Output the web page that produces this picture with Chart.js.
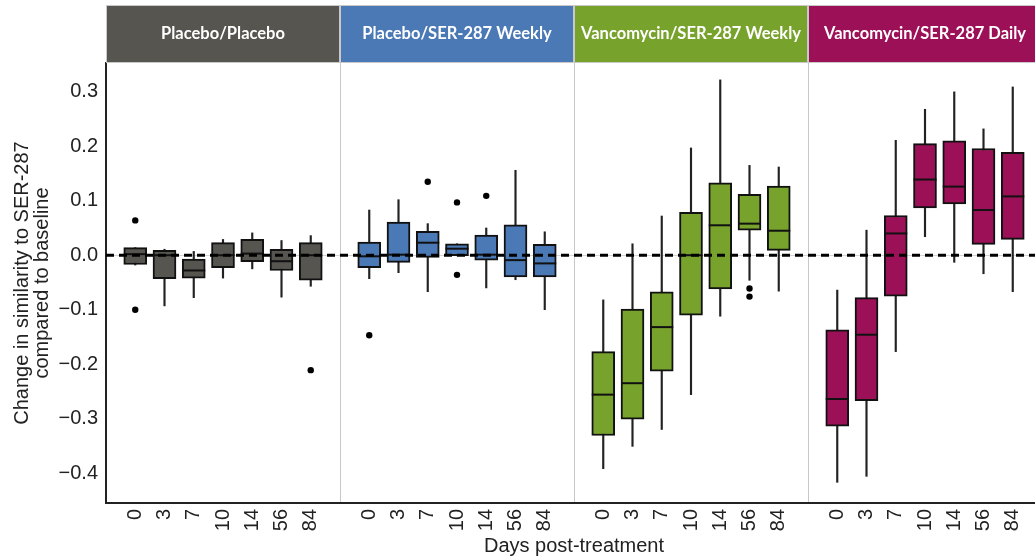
<!DOCTYPE html>
<html>
<head>
<meta charset="utf-8">
<script src="https://cdn.jsdelivr.net/npm/chart.js@4/dist/chart.umd.min.js"></script>
<style>
  html, body { margin: 0; padding: 0; background: #fff; overflow: hidden; }
  #wrap { position: relative; width: 1035px; height: 560px; overflow: hidden; }
  #chart { display: block; position: absolute; left: 0; top: 0; }
</style>
</head>
<body>
<div id="wrap"><canvas id="chart" width="1044" height="560"></canvas></div>
<script>
/*******************************************************************************
 * DATA
 */

const days = ['0', '3', '7', '10', '14', '56', '84'];
const groups = ['Placebo/Placebo', 'Placebo/SER-287 Weekly', 'Vancomycin/SER-287 Weekly', 'Vancomycin/SER-287 Daily'];

// one row per group, one value per day
const whiskerLow = [
  [-0.018, -0.093, -0.078, -0.042, -0.025, -0.077, -0.057],
  [-0.043, -0.032, -0.067, -0.001, -0.060, -0.045, -0.100],
  [-0.392, -0.351, -0.320, -0.256, -0.112, -0.046, -0.066],
  [-0.417, -0.406, -0.177, 0.034, -0.013, -0.034, -0.067]
];
const quartile1 = [
  [-0.017, -0.043, -0.042, -0.023, -0.012, -0.028, -0.046],
  [-0.023, -0.013, -0.004, -0.001, -0.009, -0.040, -0.040],
  [-0.331, -0.301, -0.213, -0.110, -0.062, 0.046, 0.009],
  [-0.314, -0.267, -0.075, 0.087, 0.094, 0.020, 0.029]
];
const medians = [
  [0.002, 0.000, -0.028, 0.000, 0.003, -0.011, 0.000],
  [-0.002, 0.001, 0.023, 0.012, 0.001, -0.009, -0.015],
  [-0.256, -0.235, -0.132, 0.000, 0.055, 0.058, 0.045],
  [-0.264, -0.146, 0.040, 0.139, 0.126, 0.083, 0.108]
];
const quartile3 = [
  [0.014, 0.009, -0.007, 0.023, 0.029, 0.011, 0.023],
  [0.024, 0.061, 0.044, 0.021, 0.037, 0.056, 0.020],
  [-0.177, -0.099, -0.067, 0.079, 0.133, 0.112, 0.127],
  [-0.137, -0.078, 0.073, 0.205, 0.210, 0.196, 0.189]
];
const whiskerHigh = [
  [0.014, 0.011, 0.007, 0.029, 0.041, 0.027, 0.036],
  [0.083, 0.102, 0.058, 0.021, 0.050, 0.156, 0.043],
  [-0.082, 0.021, 0.072, 0.197, 0.322, 0.165, 0.162],
  [-0.064, 0.046, 0.211, 0.268, 0.300, 0.232, 0.309]
];
// outliers per group, per day
const outliers = [
  [[0.064, -0.100], [], [], [], [], [], [-0.211]],
  [[-0.147], [], [0.135], [0.097, -0.036], [0.109], [], []],
  [[], [], [], [], [], [-0.061, -0.076], []],
  [[], [], [], [], [], [], []]
];

const yTickValues = [0.3, 0.2, 0.1, 0.0, -0.1, -0.2, -0.3, -0.4];
const baseline = 0;

/*******************************************************************************
 * STYLE
 */

const groupColors = ['#565550', '#4a79b6', '#77a22c', '#9c1057'];
const fontFamily = '"Liberation Sans", Arial, sans-serif';
const slots = days.length + 1;           // each panel spans 8 slots, days sit on 1..7
const xMax = slots * groups.length;

const xPos = (g, d) => g * slots + d + 1;

/*******************************************************************************
 * DATASETS
 */

const whiskerData = [];
const medianData = [];
const outlierData = [];
const boxSets = [];

groups.forEach((name, g) => {
  const boxes = [];
  days.forEach((day, d) => {
    const x = xPos(g, d);
    whiskerData.push({ x, y: [whiskerLow[g][d], whiskerHigh[g][d]] });
    boxes.push({ x, y: [quartile1[g][d], quartile3[g][d]] });
    medianData.push({ x, y: medians[g][d] });
    outliers[g][d].forEach(v => outlierData.push({ x, y: v }));
  });
  boxSets.push({
    type: 'bar',
    label: name,
    data: boxes,
    backgroundColor: groupColors[g],
    borderColor: '#111',
    borderWidth: 2,
    borderSkipped: false,
    barThickness: 23,
    grouped: false,
    order: 3
  });
});

const xTickValues = [];
const xTickLabels = {};
groups.forEach((name, g) => {
  if (g > 0) xTickValues.push(g * slots);
  days.forEach((day, d) => {
    xTickValues.push(xPos(g, d));
    xTickLabels[xPos(g, d)] = day;
  });
});

/*******************************************************************************
 * PANEL HEADERS
 */

const panelHeaders = {
  id: 'panelHeaders',
  afterDraw(chart) {
    const { ctx, chartArea, scales: { x } } = chart;
    const top = 5;
    const bottom = chartArea.top;
    ctx.save();
    groups.forEach((name, g) => {
      const left = x.getPixelForValue(g * slots);
      const right = x.getPixelForValue((g + 1) * slots);
      ctx.fillStyle = groupColors[g];
      ctx.fillRect(left, top, right - left, bottom - top);
      ctx.strokeStyle = '#c9c9c9';
      ctx.lineWidth = 1;
      ctx.strokeRect(left + 0.5, top + 0.5, right - left - 1, bottom - top - 1);
      ctx.fillStyle = '#fff';
      ctx.font = 'bold 16.5px Lato, "Open Sans", sans-serif';
      ctx.textAlign = 'center';
      ctx.textBaseline = 'middle';
      ctx.fillText(name, (left + right) / 2, (top + bottom) / 2);
    });
    ctx.restore();
  }
};

/*******************************************************************************
 * CHART
 */

new Chart(document.getElementById('chart'), {
  type: 'bar',
  data: {
    datasets: [
      {
        type: 'line',
        data: [{ x: 0, y: baseline }, { x: xMax, y: baseline }],
        borderColor: '#000',
        borderWidth: 3,
        borderDash: [8, 5],
        pointRadius: 0,
        order: 0
      },
      {
        type: 'scatter',
        data: medianData,
        pointStyle: 'line',
        pointRadius: 11.5,
        borderColor: '#111',
        borderWidth: 2,
        order: 1
      },
      {
        type: 'scatter',
        data: outlierData,
        pointRadius: 3.2,
        backgroundColor: '#000',
        borderColor: '#000',
        borderWidth: 0,
        order: 1
      },
      ...boxSets,
      {
        type: 'bar',
        data: whiskerData,
        backgroundColor: '#222',
        borderWidth: 0,
        barThickness: 1.5,
        grouped: false,
        order: 4
      }
    ]
  },
  options: {
    responsive: false,
    animation: false,
    devicePixelRatio: 1,
    layout: { autoPadding: false, padding: { top: 63, right: 2, bottom: 0, left: 0 } },
    plugins: {
      legend: { display: false },
      tooltip: { enabled: false }
    },
    scales: {
      x: {
        type: 'linear',
        min: 0,
        max: xMax,
        offset: false,
        afterFit: scale => {
          scale.height = 57;
          scale.paddingLeft = 0;
          scale.paddingRight = 0;
        },
        afterBuildTicks: scale => {
          scale.ticks = xTickValues.map(value => ({ value }));
        },
        grid: {
          offset: false,
          drawTicks: false,
          color: ctx => (ctx.tick && ctx.tick.value % slots === 0) ? '#c8c8c8' : 'rgba(0,0,0,0)',
          lineWidth: 1
        },
        border: { display: true, color: '#222', width: 2 },
        ticks: {
          autoSkip: false,
          minRotation: 90,
          maxRotation: 90,
          padding: 6,
          color: '#222',
          font: { family: fontFamily, size: 20 },
          callback: value => xTickLabels[value] || ''
        },
        title: {
          display: true,
          text: 'Days post-treatment',
          color: '#222',
          font: { family: fontFamily, size: 20, lineHeight: 1 },
          padding: { top: 0, bottom: 4 }
        }
      },
      y: {
        min: -0.455,
        max: 0.353,
        afterFit: scale => {
          scale.width = 106;
          scale.paddingTop = 0;
          scale.paddingBottom = 0;
        },
        afterBuildTicks: scale => {
          scale.ticks = yTickValues.map(value => ({ value }));
        },
        grid: {
          drawTicks: false,
          color: ctx => (ctx.tick && ctx.tick.value === baseline) ? '#d4d4d4' : 'rgba(0,0,0,0)'
        },
        border: { display: true, color: '#222', width: 2 },
        ticks: {
          padding: 8,
          color: '#222',
          font: { family: fontFamily, size: 20 },
          callback: value => value.toFixed(1).replace('-', '\u2212').replace('\u22120.0', '0.0')
        },
        title: {
          display: true,
          text: ['Change in similarity to SER-287', 'compared to baseline'],
          color: '#222',
          font: { family: fontFamily, size: 20, lineHeight: 1 },
          padding: { top: 12, bottom: 0 }
        }
      }
    }
  },
  plugins: [panelHeaders]
});
</script>
</body>
</html>
